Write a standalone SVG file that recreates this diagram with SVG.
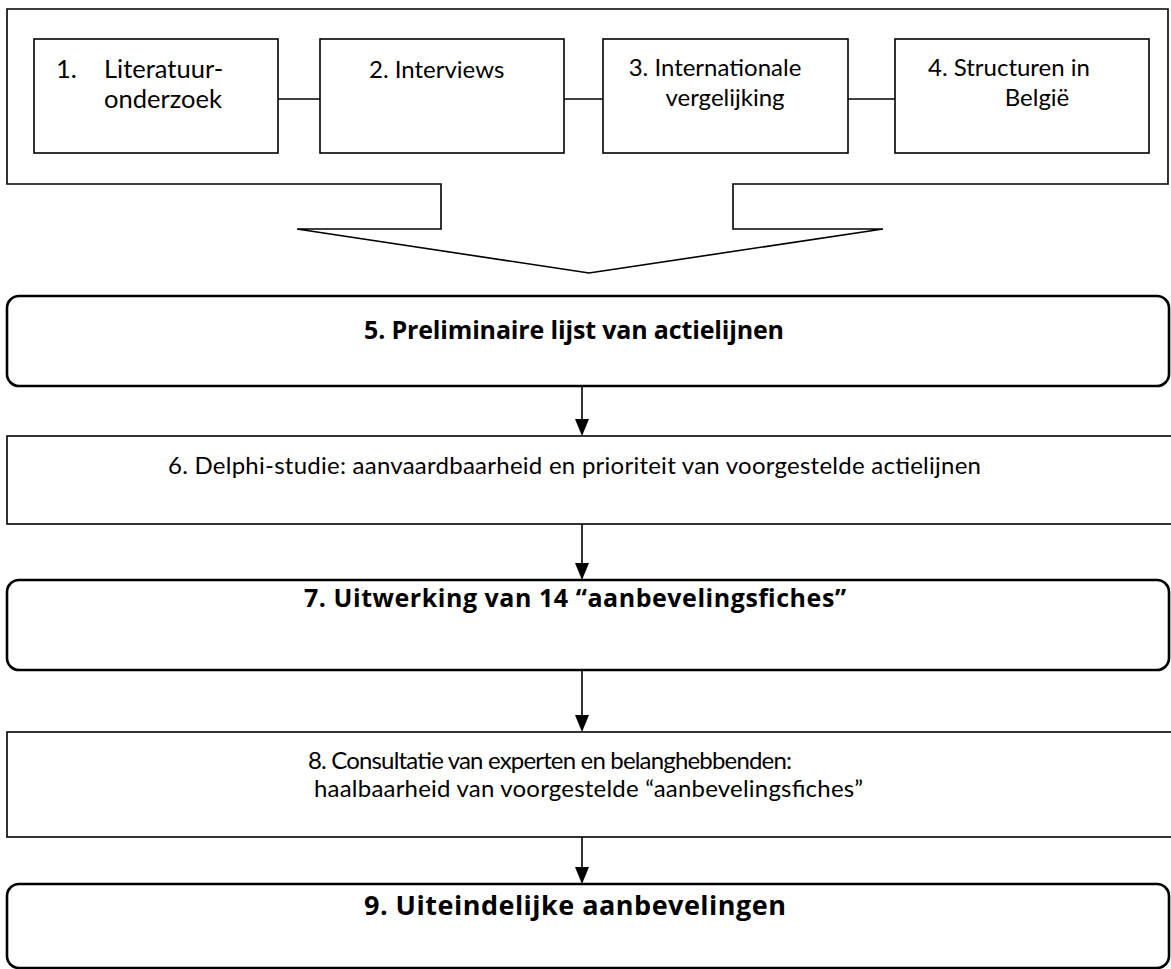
<svg xmlns="http://www.w3.org/2000/svg" width="1171" height="969" viewBox="0 0 1171 969">
<style>
.box{fill:#fff;stroke:#000;stroke-width:1.6}
.rbox{fill:#fff;stroke:#000;stroke-width:2.6}
.t{font-family:"Lato","Liberation Sans",sans-serif;font-size:24px;fill:#000}
.tc{font-family:"Lato","Liberation Sans",sans-serif;font-size:25.5px;fill:#000}
.b{font-family:"Open Sans","Liberation Sans",sans-serif;font-size:25px;font-weight:bold;fill:#000}
.c{stroke:#000;stroke-width:1.6;fill:none}
.ah{fill:#000}
</style>
<g id="stage1">
<path class="box" d="M7,9 H1168 V184 H733 V229 H883 L589,273 L297,229 H441 V184 H7 Z"/>
</g>
<g id="connectors">
<line class="c" x1="278" y1="99" x2="320" y2="99"/>
<line class="c" x1="564" y1="99" x2="603" y2="99"/>
<line class="c" x1="848" y1="99" x2="895" y2="99"/>
<line class="c" x1="582" y1="386" x2="582" y2="420"/>
<polygon class="ah" points="575,419 589,419 582,436"/>
<line class="c" x1="582" y1="524" x2="582" y2="564"/>
<polygon class="ah" points="575,563 589,563 582,580"/>
<line class="c" x1="582" y1="670" x2="582" y2="716"/>
<polygon class="ah" points="575,715 589,715 582,732"/>
<line class="c" x1="582" y1="837" x2="582" y2="868"/>
<polygon class="ah" points="575,867 589,867 582,884"/>
</g>
<g id="n1">
<rect class="box" x="34" y="39" width="244" height="114"/>
<text class="tc" x="56" y="78">1.</text>
<text class="tc" x="104" y="78">Literatuur-</text>
<text class="tc" x="104" y="108">onderzoek</text>
</g>
<g id="n2">
<rect class="box" x="320" y="39" width="244" height="114"/>
<text class="t" x="369" y="78">2. Interviews</text>
</g>
<g id="n3">
<rect class="box" x="603" y="39" width="245" height="114"/>
<text class="t" x="715" y="76" text-anchor="middle">3. Internationale</text>
<text class="t" x="725" y="106" text-anchor="middle">vergelijking</text>
</g>
<g id="n4">
<rect class="box" x="895" y="39" width="254" height="114"/>
<text class="t" x="1009" y="76" text-anchor="middle">4. Structuren in</text>
<text class="t" x="1037" y="106" text-anchor="middle">België</text>
</g>
<g id="n5">
<rect class="rbox" x="7" y="296" width="1162" height="90" rx="12"/>
<text class="b" x="364" y="339" textLength="420" lengthAdjust="spacing">5. Preliminaire lijst van actielijnen</text>
</g>
<g id="n6">
<rect class="box" x="7" y="436" width="1168" height="88"/>
<text class="t" x="168" y="474" textLength="813" lengthAdjust="spacing">6. Delphi-studie: aanvaardbaarheid en prioriteit van voorgestelde actielijnen</text>
</g>
<g id="n7">
<rect class="rbox" x="7" y="580" width="1162" height="90" rx="12"/>
<text class="b" x="304" y="607" textLength="542" lengthAdjust="spacing">7. Uitwerking van 14 “aanbevelingsfiches”</text>
</g>
<g id="n8">
<rect class="box" x="7" y="732" width="1168" height="105"/>
<text class="t" x="308" y="769" textLength="484" lengthAdjust="spacing">8. Consultatie van experten en belanghebbenden:</text>
<text class="t" x="314" y="797" textLength="549" lengthAdjust="spacing">haalbaarheid van voorgestelde “aanbevelingsfiches”</text>
</g>
<g id="n9">
<rect class="rbox" x="7" y="884" width="1162" height="84" rx="12"/>
<text class="b" x="364" y="915" style="font-size:27px" textLength="422" lengthAdjust="spacing">9. Uiteindelijke aanbevelingen</text>
</g>
</svg>
